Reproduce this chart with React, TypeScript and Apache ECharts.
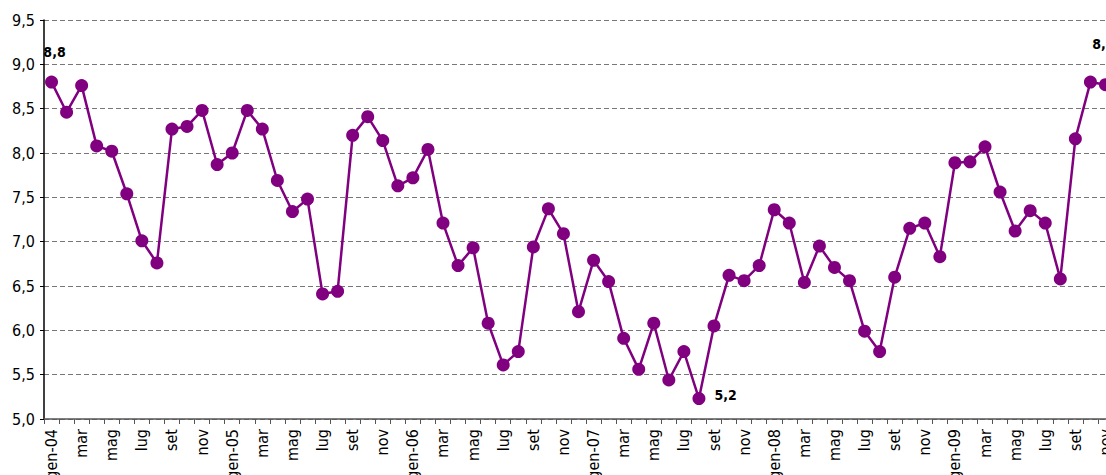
import React, { useEffect, useRef } from "react";
import * as echarts from "echarts";

const months = ["gen", "feb", "mar", "apr", "mag", "giu", "lug", "ago", "set", "ott", "nov", "dic"];
const years = ["04", "05", "06", "07", "08", "09"];
const categories: string[] = [];
years.forEach((y) => months.forEach((m, i) => categories.push(i === 0 ? `${m}-${y}` : m)));
categories.splice(71);

const values = [
  8.80, 8.46, 8.76, 8.08, 8.02, 7.54, 7.01, 6.76, 8.27, 8.30, 8.48, 7.87,
  8.00, 8.48, 8.27, 7.69, 7.34, 7.48, 6.41, 6.44, 8.20, 8.41, 8.14, 7.63,
  7.72, 8.04, 7.21, 6.73, 6.93, 6.08, 5.61, 5.76, 6.94, 7.37, 7.09, 6.21,
  6.79, 6.55, 5.91, 5.56, 6.08, 5.44, 5.76, 5.23, 6.05, 6.62, 6.56, 6.73,
  7.36, 7.21, 6.54, 6.95, 6.71, 6.56, 5.99, 5.76, 6.60, 7.15, 7.21, 6.83,
  7.89, 7.90, 8.07, 7.56, 7.12, 7.35, 7.21, 6.58, 8.16, 8.80, 8.77,
];

const yTicks = { min: 5, max: 9.5, interval: 0.5 };

const FONT = '"Liberation Sans Narrow", "DejaVu Sans Condensed", "Roboto Condensed", sans-serif';
const PURPLE = "#800080";

export default function App() {
  const ref = useRef<HTMLDivElement>(null);
  useEffect(() => {
    if (!ref.current) return;
    const chart = echarts.init(ref.current, undefined, { renderer: "svg" });
    const fmt = (v: number) => v.toFixed(1).replace(".", ",");
    const labelStyle = {
      show: true,
      fontFamily: FONT,
      fontWeight: "bold" as const,
      fontSize: 14,
      color: "#000",
      formatter: (p: any) => fmt(p.value),
    };
    const lastIdx = values.length - 1;
    const minIdx = values.indexOf(Math.min(...values));
    const data = values.map((v, i) => {
      if (i === 0) return { value: v, label: { ...labelStyle, position: "top", offset: [3, -12] } };
      if (i === lastIdx) return { value: v, label: { ...labelStyle, position: "top", offset: [-2, -22] } };
      if (i === minIdx) return { value: v, label: { ...labelStyle, position: "right", offset: [4, -4] } };
      return v;
    });
    chart.setOption({
      animation: false,
      grid: {
        left: 44,
        width: 1069,
        top: 20,
        bottom: 56,
        containLabel: false,
        outerBoundsMode: "none",
      },
      xAxis: {
        type: "category",
        data: categories,
        boundaryGap: true,
        axisLine: { lineStyle: { color: "#555", width: 1.5 } },
        axisTick: { show: true, interval: 0, length: 5, lineStyle: { color: "#555" } },
        axisLabel: {
          interval: 1,
          rotate: 90,
          margin: 10,
          fontFamily: FONT,
          fontSize: 16,
          color: "#000",
        },
        splitLine: { show: false },
      },
      yAxis: {
        type: "value",
        min: yTicks.min,
        max: yTicks.max,
        interval: yTicks.interval,
        axisLine: { show: true, lineStyle: { color: "#000", width: 1.5 } },
        axisTick: { show: true, length: 4, lineStyle: { color: "#000" } },
        axisLabel: {
          formatter: (v: number) => fmt(v),
          fontFamily: FONT,
          fontSize: 16,
          color: "#000",
          margin: 9,
        },
        splitLine: { show: true, lineStyle: { color: "#777", type: [5, 3], width: 1 } },
      },
      series: [
        {
          type: "line",
          data,
          symbol: "circle",
          symbolSize: 13,
          showAllSymbol: true,
          lineStyle: { color: PURPLE, width: 2.5 },
          itemStyle: { color: PURPLE },
          label: { show: false },
        },
      ],
    });
    return () => chart.dispose();
  }, []);
  return (
    <div
      ref={ref}
      style={{ position: "fixed", left: 0, top: 0, width: 1106, height: 475, background: "#fff" }}
    />
  );
}
